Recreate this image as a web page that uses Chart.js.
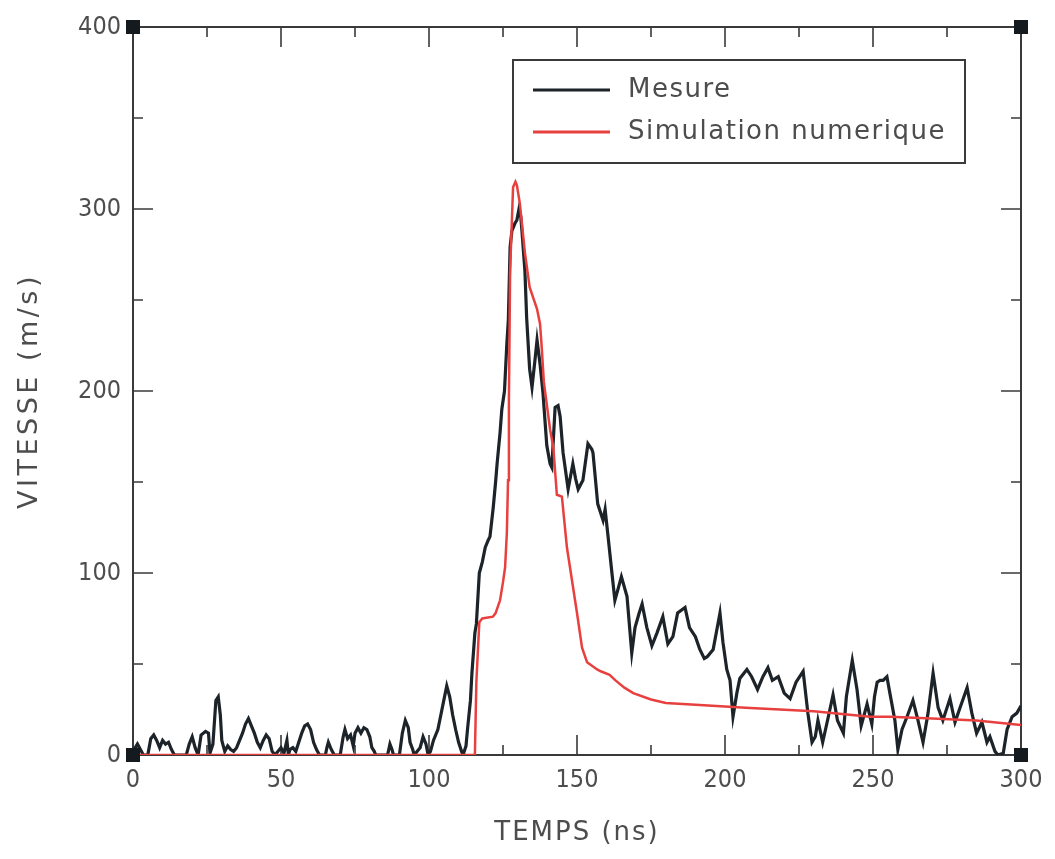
<!DOCTYPE html>
<html><head><meta charset="utf-8">
<script src="https://cdn.jsdelivr.net/npm/chart.js@4/dist/chart.umd.min.js"></script>
<style>html,body{margin:0;padding:0;background:#fff}</style>
</head><body>
<canvas id="c" width="1055" height="859"></canvas>
<script>
// Measured velocity (ns, m/s)
const mesureT = [0,1.5,2.5,3.5,5,6,7,8,9,10,11,12,13,14,18,19,20,21,22,23,24.5,25.5,26,27,28,28.8,29.5,30,31,32,33,34,35,36,37,38,39,40,41,42,43,44,45,46,47,48,49,50,51,52,52.5,53,54,55,56,57,58,59,60,61,62,63,65,65.5,66,67,68,70,71,71.6,72.5,73.5,74.4,75,76,77,78,79,80,80.7,81.5,82,86,86.8,87.5,88,90,91,92,93,93.6,94.5,95,97,98,99,99.7,100.5,101.5,103,104,105,106,107,108,109,110,111,111.5,112.5,113,114,114.5,115.5,116,117,118,119,120,120.6,121.7,122.5,123,124,124.6,125.5,126.3,126.8,127.4,128,129,129.7,130.4,131,131.4,132.4,133,134,134.8,135.8,136.5,137.5,138.5,139.8,140.9,141.5,142.6,143.6,144.3,145.3,147,148.6,149.5,150.4,152,153.7,155,155.4,157,158.8,159.5,160.5,161.8,162.8,164,165,166.9,168.5,169.6,171,172,173.6,175.3,177,179,180.7,182.4,184,186.5,188,190,191.5,193,194,196,198.3,199.3,200.6,201.7,202.7,204,205,207.4,209,211,212.8,214.5,216,218,220,222,224,226.4,228,229.4,230.5,231.4,233,234.5,236.5,238,240,241,243,244.6,246,248,249.6,250.5,251.4,252.4,253.4,254.7,255.7,257.4,258.4,259.8,261.5,263.5,265.2,266.9,268.6,270.3,272,273.6,276,277.7,279.4,281.8,283.4,285,286.8,288.5,289.5,291.2,292.2,294,295.3,297,298.6,300];
const mesureV = [2,6,3,0,0,9,11,8,4,8,6,7,3,0,0,6,10,4,0,11,13,12,1,6,30,32,22,8,2,5,3,2,4,8,12,17,20,16,12,7,4,8,11,9,2,0,2,4,1,8,0,3,4,2,7,12,16,17,14,7,3,0,0,4,7,3,0,0,10,14,9,11,5,12,15,12,15,14,10,4,2,0,0,6,3,0,0,12,19,15,7,3,0,4,10,6,0,2,8,14,22,30,38,32,22,14,7,2,0,5,14,30,45,67,72,100,106,114,118,120,136,150,160,177,190,200,226,239,279,288,292,294,300,296,288,266,240,212,202,217,228,215,199,170,160,158,191,192,186,166,146,160,152,146,151,171,168,166,138,129,135,120,100,85,92,98,87,56,70,78,83,70,60,67,76,61,65,78,81,70,65,58,53,54,58,78,62,47,41,21,34,42,47,43,36,43,48,41,43,34,31,40,46,23,7,10,19,7,18,33,19,12,32,52,36,16,28,17,32,40,41,41,43,34,19,3,14,21,30,19,7,23,45,26,19,31,18,26,37,23,12,18,7,10,2,0,1,14,21,23,27];
// Numerical simulation (ns, m/s)
const simT = [0,115.5,116,117,118,121.6,122.5,124,125,125.7,126.3,126.7,127,127.4,128.4,129.2,129.7,130.7,132.4,134,136.5,137.5,138,138.8,140,140.9,142,143.2,144.9,146.6,148.3,150,151.7,153.4,156.8,158,161,163,166,169,175,180,191.5,207,230,249,255.7,270,285,300];
const simV = [0,0,40,73,75,76,78,85,95,103,122,151,195,266,312,315,313,303,276,257,245,237,226,205,190,179,169,143,142,114,96,78,59,51,47,46,44,41,37,34,30.5,28.6,27.5,26,24,21,21,20,19,16.5];

const seriesLabels = ['Mesure', 'Simulation numerique'];
const xTicks = [0,50,100,150,200,250,300];
const xMinor = [25,75,125,175,225,275];
const yTicks = [0,100,200,300,400];
const yMinor = [50,150,250,350];
const xTitle = 'TEMPS (ns)';
const yTitle = 'VITESSE (m/s)';

const TXT = '#4d4d4d';
const AX = '#3a3a3a';
const tickFont = {family: "'DejaVu Sans Condensed','DejaVu Sans',sans-serif", size: 25};
const titleFont = {family: "'DejaVu Sans',sans-serif", size: 26};
const yTitleFont = {family: "'DejaVu Sans',sans-serif", size: 27};

function spacing(s, labelSp, titleSp) {
  if (s._spWrapped) return;
  s._spWrapped = true;
  const dl = s.drawLabels, dt = s.drawTitle;
  s.drawLabels = function (a) { const c = this.ctx; c.letterSpacing = labelSp; dl.call(this, a); c.letterSpacing = '0px'; };
  s.drawTitle = function (a) { const c = this.ctx; c.letterSpacing = titleSp; dt.call(this, a); c.letterSpacing = '0px'; };
}

const frame = {
  id: 'frame',
  beforeDatasetsDraw(chart) {
    const {ctx, chartArea: a, scales: {x, y}} = chart;
    ctx.save();
    ctx.strokeStyle = AX; ctx.lineWidth = 2;
    ctx.strokeRect(a.left, a.top, a.right - a.left, a.bottom - a.top);
    ctx.lineWidth = 1.6;
    const tk = (vals, len) => {
      vals.forEach(v => {
        const px = x.getPixelForValue(v);
        ctx.beginPath();
        ctx.moveTo(px, a.bottom); ctx.lineTo(px, a.bottom - len);
        ctx.moveTo(px, a.top); ctx.lineTo(px, a.top + len);
        ctx.stroke();
      });
    };
    const tky = (vals, len) => {
      vals.forEach(v => {
        const py = y.getPixelForValue(v);
        ctx.beginPath();
        ctx.moveTo(a.left, py); ctx.lineTo(a.left + len, py);
        ctx.moveTo(a.right, py); ctx.lineTo(a.right - len, py);
        ctx.stroke();
      });
    };
    tk(xTicks, 20); tk(xMinor, 10); tky(yTicks, 20); tky(yMinor, 10);
    ctx.restore();
  },
  afterDatasetsDraw(chart) {
    const {ctx, chartArea: a} = chart;
    ctx.save();
    ctx.fillStyle = '#151a1e';
    [[a.left, a.top], [a.right, a.top], [a.left, a.bottom], [a.right, a.bottom]].forEach(([cx, cy]) => {
      ctx.fillRect(cx - 7, cy - 7, 14, 14);
    });
    // legend
    const lx = 513, ly = 60, lw = 452, lh = 103;
    ctx.fillStyle = '#fff';
    ctx.fillRect(lx, ly, lw, lh);
    ctx.strokeStyle = AX; ctx.lineWidth = 2;
    ctx.strokeRect(lx, ly, lw, lh);
    const ds = chart.data.datasets;
    const rows = [90, 132];
    ctx.font = `${titleFont.size}px ${titleFont.family}`;
    ctx.letterSpacing = '1.5px';
    ctx.textBaseline = 'middle';
    ds.forEach((d, i) => {
      ctx.strokeStyle = d.borderColor; ctx.lineWidth = 3;
      ctx.beginPath(); ctx.moveTo(533, rows[i]); ctx.lineTo(610, rows[i]); ctx.stroke();
      ctx.fillStyle = TXT;
      ctx.fillText(d.label, 628, rows[i]);
    });
    ctx.letterSpacing = '0px';
    ctx.restore();
  }
};

new Chart(document.getElementById('c'), {
  type: 'line',
  data: {
    datasets: [
      {label: seriesLabels[0], data: mesureT.map((t, i) => ({x: t, y: mesureV[i]})), borderColor: '#1c2329', borderWidth: 3.2, pointRadius: 0, tension: 0, order: 2},
      {label: seriesLabels[1], data: simT.map((t, i) => ({x: t, y: simV[i]})), borderColor: '#e8403f', borderWidth: 2.5, pointRadius: 0, tension: 0, order: 1}
    ]
  },
  options: {
    responsive: false, animation: false,
    layout: {padding: {top: 27, right: 34, left: 0, bottom: 0}},
    plugins: {legend: {display: false}, tooltip: {enabled: false}},
    scales: {
      x: {
        type: 'linear', min: 0, max: 300,
        afterBuildTicks: s => { s.ticks = xTicks.map(v => ({value: v})); },
        afterFit: s => { s.height = 104; spacing(s, '0px', '2px'); },
        grid: {display: false, drawTicks: false}, border: {display: false},
        ticks: {font: tickFont, color: TXT, padding: 10, maxRotation: 0, autoSkip: false},
        title: {display: true, text: xTitle, font: titleFont, color: TXT, padding: {top: 0, bottom: 10}}
      },
      y: {
        type: 'linear', min: 0, max: 400,
        afterBuildTicks: s => { s.ticks = yTicks.map(v => ({value: v})); },
        afterFit: s => { s.width = 133; spacing(s, '0px', '3.5px'); },
        grid: {display: false, drawTicks: false}, border: {display: false},
        ticks: {font: tickFont, color: TXT, padding: 12},
        title: {display: true, text: yTitle, font: yTitleFont, color: TXT, padding: {top: 14, bottom: 0}}
      }
    }
  },
  plugins: [frame]
});
</script>
</body></html>
